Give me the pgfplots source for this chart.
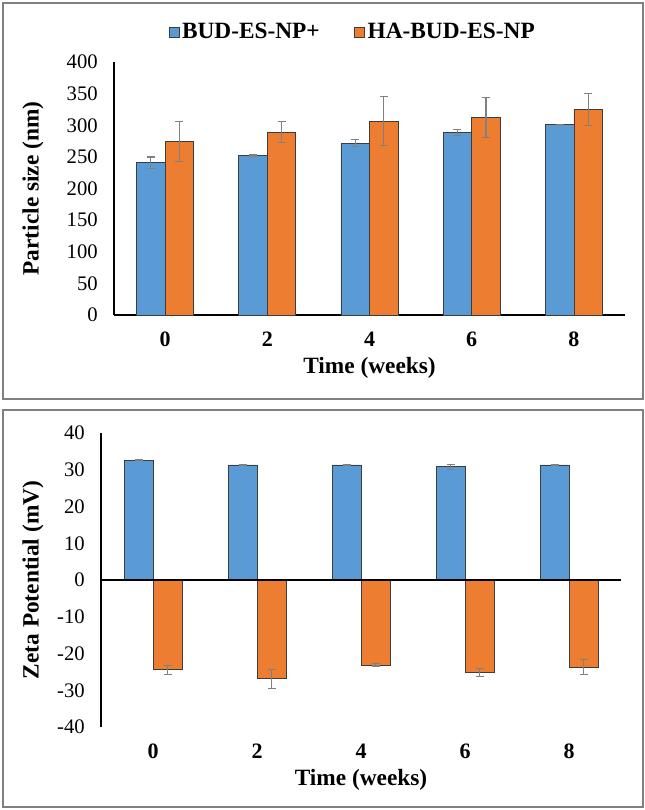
\documentclass[border=0pt]{standalone}
\usepackage{fontspec}
\setmainfont{Liberation Serif}
\usepackage{pgfplots}
\pgfplotsset{compat=1.18}

\definecolor{budblue}{RGB}{91,155,213}
\definecolor{haorange}{RGB}{237,125,49}
\definecolor{framegray}{RGB}{128,128,128}
\definecolor{barline}{RGB}{60,60,60}

\pgfplotsset{
  stab/.style={
    scale only axis,
    ybar=0pt,
    axis lines=left,
    axis line style={-, line width=1.1pt, black},
    major tick length=0pt,
    xmin=-0.5, xmax=4.5,
    xtick={0,1,2,3,4}, xticklabels={0,2,4,6,8},
    /pgf/number format/assume math mode=true,
    yticklabel style={font=\fontsize{15.5}{18}\selectfont, inner sep=0pt, anchor=east, xshift=-12pt},
    xticklabel style={font=\fontsize{16.5}{19}\selectfont\bfseries, inner sep=0pt, anchor=north, yshift=-12.5pt},
    label style={font=\fontsize{17.5}{20}\selectfont\bfseries},
  },
  errb/.style={draw=barline, line width=0.6pt,
    error bars/.cd, y dir=both, y explicit,
    error bar style={draw=gray, line width=0.8pt},
    error mark options={rotate=90, mark size=3pt, draw=gray, line width=0.8pt}},
}

\begin{document}
\begin{tikzpicture}
\useasboundingbox (0,0) rectangle (483.75pt,-607.5pt);
\draw[framegray, line width=1.1pt] (2.25pt,-2.25pt) rectangle (482.25pt,-299.25pt);
\draw[framegray, line width=1.1pt] (2.25pt,-307.5pt) rectangle (482.25pt,-605.25pt);

% particle size
\begin{axis}[stab,
    at={(85.5pt,-236.25pt)}, anchor=south west,
    width=383.25pt, height=189.75pt,
    bar width=21.4pt,
    ymin=0, ymax=400, ytick distance=50,
    xlabel={Time (weeks)}, ylabel={Particle size (nm)},
    xlabel style={at={(axis description cs:0.5,-0.2095)}, anchor=center},
    ylabel style={at={(axis description cs:-0.1585,0.5)}, anchor=center},
    legend style={draw=none, at={(0.468,1.119)}, anchor=center,
      legend columns=2, font=\fontsize{17.5}{20}\selectfont\bfseries,
      /tikz/every even column/.append style={column sep=24pt}},
    legend image code/.code={\draw[draw=barline, line width=0.4pt, #1] (0pt,-3.75pt) rectangle (7.5pt,3.75pt);},
]
\addplot[fill=budblue, errb] coordinates {
  (0,240.8) +- (0,9) (1,252.4) +- (0,1) (2,271.9) +- (0,5)
  (3,288.8) +- (0,4.5) (4,300.9) +- (0,0.5)
};
\addplot[fill=haorange, errb] coordinates {
  (0,274.6) +- (0,32) (1,289.3) +- (0,16) (2,306.7) +- (0,38.5)
  (3,312.5) +- (0,32) (4,324.6) +- (0,25)
};
\legend{BUD-ES-NP+, HA-BUD-ES-NP}
\end{axis}

% zeta potential
\begin{axis}[stab,
    at={(75.75pt,-545.25pt)}, anchor=south west,
    width=390pt, height=220.5pt,
    bar width=21.75pt,
    x axis line style={draw=none},
    ymin=-40, ymax=40, ytick distance=10,
    xlabel={Time (weeks)}, ylabel={Zeta Potential (mV)},
    xlabel style={at={(axis description cs:0.5,-0.1803)}, anchor=center},
    ylabel style={at={(axis description cs:-0.1308,0.5)}, anchor=center},
]
\addplot[fill=budblue, errb] coordinates {
  (0,32.6) +- (0,0.2) (1,31.3) +- (0,0.1) (2,31.3) +- (0,0.1)
  (3,30.8) +- (0,0.7) (4,31.3) +- (0,0.1)
};
\addplot[fill=haorange, errb] coordinates {
  (0,-24.4) +- (0,1.2) (1,-26.9) +- (0,2.6) (2,-23.1) +- (0,0.3)
  (3,-25.2) +- (0,1.1) (4,-23.7) +- (0,2.1)
};
\draw[black, line width=1.1pt] (axis cs:-0.5,0) -- (axis cs:4.5,0);
\end{axis}
\end{tikzpicture}
\end{document}
